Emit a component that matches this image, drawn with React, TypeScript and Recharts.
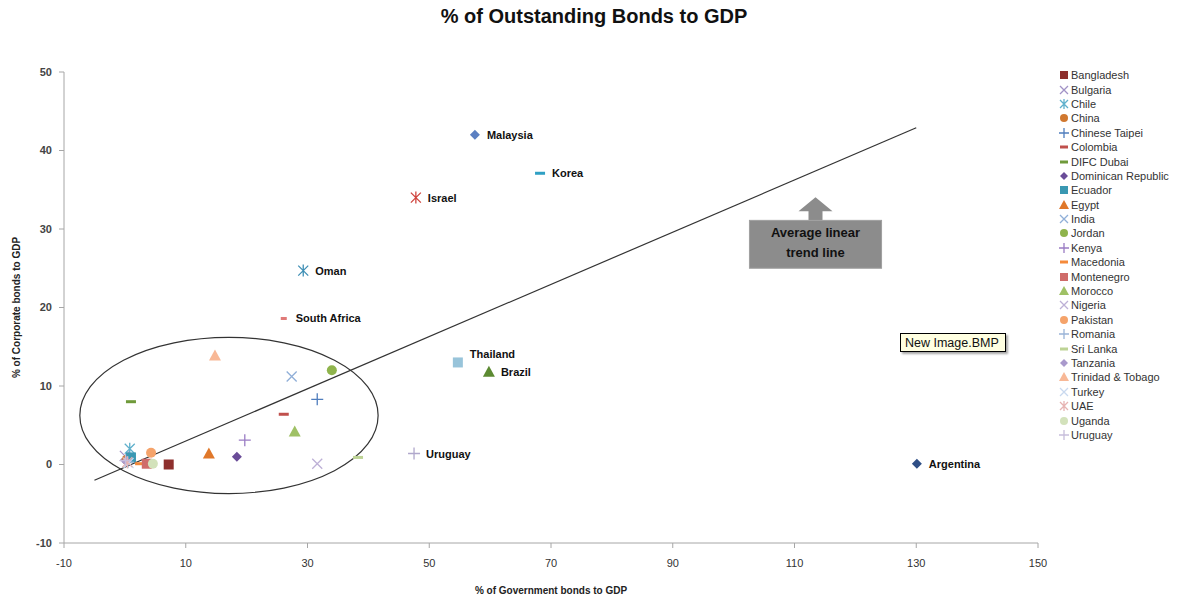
import { ScatterChart, Scatter, XAxis, YAxis, ReferenceLine, ReferenceArea, LabelList } from 'recharts'

// countries shown in the legend
const countries = ['Bangladesh', 'Bulgaria', 'Chile', 'China', 'Chinese Taipei', 'Colombia', 'DIFC Dubai', 'Dominican Republic', 'Ecuador', 'Egypt', 'India', 'Jordan', 'Kenya', 'Macedonia', 'Montenegro', 'Morocco', 'Nigeria', 'Pakistan', 'Romania', 'Sri Lanka', 'Tanzania', 'Trinidad & Tobago', 'Turkey', 'UAE', 'Uganda', 'Uruguay']
const govBonds = [7.2, 0.0, 0.8, 0.3, 31.6, 26.1, 1.0, 18.4, 1.0, 13.8, 27.4, 34.0, 19.7, 2.5, 3.6, 27.9, 31.6, 4.3, 0.5, 38.3, 0.2, 14.8, 0.6, 0.4, 4.6, 0.1]
const corpBonds = [0.0, 1.1, 2.0, 0.6, 8.3, 6.4, 8.0, 1.0, 0.9, 1.4, 11.2, 12.0, 3.1, 0.1, 0.1, 4.2, 0.1, 1.5, 0.3, 0.9, 0.4, 13.9, 0.2, 0.3, 0.1, 0.5]

// countries labelled on the plot
const labeledCountries = ['Malaysia', 'Korea', 'Israel', 'Oman', 'South Africa', 'Thailand', 'Brazil', 'Uruguay', 'Argentina']
const labeledGov = [57.5, 68.2, 47.8, 29.3, 26.1, 54.7, 59.8, 47.5, 130.1]
const labeledCorp = [42.0, 37.1, 34.0, 24.7, 18.6, 13.0, 11.8, 1.4, 0.1]

// average linear trend line end points
const trendGov = [-5, 130]
const trendCorp = [-2, 42.9]

const xTicks = [-10, 10, 30, 50, 70, 90, 110, 130, 150]
const yTicks = [-10, 0, 10, 20, 30, 40, 50]

type Kind = 'square' | 'x' | 'asterisk' | 'circle' | 'plus' | 'dash' | 'smalldash' | 'diamond' | 'triangle'

const styles: [Kind, string][] = [
  ['square', '#8e2f2d'], ['x', '#a192c6'], ['asterisk', '#5fb0cc'], ['circle', '#d0782f'],
  ['plus', '#4f7dbd'], ['dash', '#c0504d'], ['dash', '#6f9a3a'], ['diamond', '#6a4c98'],
  ['square', '#3a98b2'], ['triangle', '#e0782a'], ['x', '#90afd8'], ['circle', '#8fb44c'],
  ['plus', '#9a7cc4'], ['dash', '#f58a3a'], ['square', '#cf6c6a'], ['triangle', '#9fc165'],
  ['x', '#bdb0d6'], ['circle', '#f5a36a'], ['plus', '#9ab4d8'], ['dash', '#bdd395'],
  ['diamond', '#a999cc'], ['triangle', '#f8b896'], ['x', '#c9d9ef'], ['asterisk', '#e6b3b2'],
  ['circle', '#d3e2bb'], ['plus', '#c7bedb'],
]

const labeledStyles: [Kind, string][] = [
  ['diamond', '#5b80c2'], ['dash', '#2fa0c4'], ['asterisk', '#d0453f'], ['asterisk', '#3f8fb5'],
  ['smalldash', '#e07a78'], ['square', '#98c4da'], ['triangle', '#5c8a32'], ['plus', '#b0a8cc'],
  ['diamond', '#2f4f86'],
]

function Marker({ kind, color, cx, cy, s = 5 }: { kind: Kind; color: string; cx: number; cy: number; s?: number }) {
  switch (kind) {
    case 'square':
      return <rect x={cx - s} y={cy - s} width={2 * s} height={2 * s} fill={color} />
    case 'diamond':
      return <polygon points={`${cx},${cy - s} ${cx + s},${cy} ${cx},${cy + s} ${cx - s},${cy}`} fill={color} />
    case 'triangle':
      return <polygon points={`${cx},${cy - s - 1} ${cx + s + 1},${cy + s} ${cx - s - 1},${cy + s}`} fill={color} />
    case 'circle':
      return <circle cx={cx} cy={cy} r={s} fill={color} />
    case 'x':
      return <path d={`M${cx - s},${cy - s}L${cx + s},${cy + s}M${cx + s},${cy - s}L${cx - s},${cy + s}`} stroke={color} strokeWidth={1.3} fill="none" />
    case 'plus':
      return <path d={`M${cx - s - 1},${cy}L${cx + s + 1},${cy}M${cx},${cy - s - 1}L${cx},${cy + s + 1}`} stroke={color} strokeWidth={1.3} fill="none" />
    case 'asterisk':
      return <path d={`M${cx - s},${cy - s}L${cx + s},${cy + s}M${cx + s},${cy - s}L${cx - s},${cy + s}M${cx},${cy - s - 1}L${cx},${cy + s + 1}`} stroke={color} strokeWidth={1.3} fill="none" />
    case 'dash':
      return <rect x={cx - s} y={cy - 1.5} width={2 * s} height={3} fill={color} />
    case 'smalldash':
      return <rect x={cx - s * 0.6} y={cy - 1.5} width={s * 1.2} height={3} fill={color} />
  }
}

const labelShift: Record<string, number> = { Thailand: -8 }

const renderLabel = (props: any) => {
  const { x, y, width, height, value } = props
  return (
    <text x={x + width / 2 + 12} y={y + height / 2 + (labelShift[value] || 0)} dominantBaseline="central"
      fontSize={11} fontWeight="bold" fill="#111">{value}</text>
  )
}

const font = '"Liberation Sans", Arial, sans-serif'

export default function App() {
  return (
    <div style={{ position: 'absolute', left: 0, top: 0, width: 1188, height: 598, background: '#fff', fontFamily: font }}>
      <div style={{ position: 'absolute', top: 5, left: 0, width: 1188, textAlign: 'center', fontSize: 20, fontWeight: 'bold', color: '#111' }}>
        % of Outstanding Bonds to GDP
      </div>

      <ScatterChart width={1188} height={598} margin={{ top: 72, right: 150, bottom: 0, left: 0 }} style={{ fontFamily: font }}>
        <XAxis type="number" dataKey="x" domain={[-10, 150]} ticks={xTicks} allowDataOverflow height={55}
          stroke="#a6a6a6" tickSize={5} tickMargin={11} tick={{ fill: '#333', fontSize: 11 }}
          label={{ value: '% of Government bonds to GDP', position: 'insideBottom', offset: 4, fontSize: 10, fontWeight: 'bold', fill: '#222' }} />
        <YAxis type="number" dataKey="y" domain={[-10, 50]} ticks={yTicks} allowDataOverflow width={64}
          stroke="#a6a6a6" tickSize={5} tickMargin={7} tick={{ fill: '#444', fontSize: 11, fontWeight: 'bold' }}
          label={{ value: '% of Corporate bonds to GDP', angle: -90, position: 'insideLeft', offset: 16, fontSize: 10, fontWeight: 'bold', fill: '#222', style: { textAnchor: 'middle' } }} />

        {/* circled cluster */}
        <ReferenceArea x1={-7.4} x2={41.6} y1={-3.7} y2={16.2} ifOverflow="visible"
          shape={(p: any) => <ellipse cx={p.x + p.width / 2} cy={p.y + p.height / 2} rx={p.width / 2} ry={p.height / 2} fill="none" stroke="#333" strokeWidth={1.2} />} />

        <ReferenceLine segment={[{ x: trendGov[0], y: trendCorp[0] }, { x: trendGov[1], y: trendCorp[1] }]} stroke="#333" strokeWidth={1.2} ifOverflow="visible" />

        {/* callout box for the trend line */}
        <ReferenceArea x1={102.6} x2={124.3} y1={25} y2={31.1} ifOverflow="visible"
          shape={(p: any) => {
            const mx = p.x + p.width / 2
            return (
              <g>
                <polygon points={`${mx - 7},${p.y} ${mx - 7},${p.y - 9} ${mx - 17},${p.y - 9} ${mx},${p.y - 23} ${mx + 17},${p.y - 9} ${mx + 7},${p.y - 9} ${mx + 7},${p.y}`} fill="#8c8c8c" />
                <rect x={p.x} y={p.y} width={p.width} height={p.height} fill="#8c8c8c" stroke="#a0a0a0" />
                <text x={mx} y={p.y + 17} textAnchor="middle" fontSize={13} fontWeight="bold" fill="#111">Average linear</text>
                <text x={mx} y={p.y + 37} textAnchor="middle" fontSize={13} fontWeight="bold" fill="#111">trend line</text>
              </g>
            )
          }} />

        {countries.map((c, i) => (
          <Scatter key={c} name={c} data={[{ x: govBonds[i], y: corpBonds[i] }]} isAnimationActive={false}
            shape={(p: any) => <Marker kind={styles[i][0]} color={styles[i][1]} cx={p.cx} cy={p.cy} />} />
        ))}

        {labeledCountries.map((c, i) => (
          <Scatter key={'l' + i} name={c} data={[{ x: labeledGov[i], y: labeledCorp[i], name: c }]} isAnimationActive={false}
            shape={(p: any) => <Marker kind={labeledStyles[i][0]} color={labeledStyles[i][1]} cx={p.cx} cy={p.cy} />}>
            <LabelList dataKey="name" content={renderLabel} />
          </Scatter>
        ))}
      </ScatterChart>

      {/* legend */}
      <div style={{ position: 'absolute', left: 1058, top: 68 }}>
        {countries.map((c, i) => (
          <div key={c} style={{ display: 'flex', alignItems: 'center', height: 14.4, fontSize: 11, color: '#333', whiteSpace: 'nowrap' }}>
            <svg width={12} height={12} style={{ marginRight: 1 }}>
              <Marker kind={styles[i][0]} color={styles[i][1]} cx={6} cy={6} s={4} />
            </svg>
            {c}
          </div>
        ))}
      </div>

      {/* stray tooltip captured in the source image */}
      <div style={{ position: 'absolute', left: 900, top: 333, width: 106, height: 19, background: '#ffffe1', border: '1px solid #000', boxShadow: '2px 2px 2px rgba(0,0,0,0.35)', fontSize: 12.5, lineHeight: '19px', paddingLeft: 4, boxSizing: 'border-box', color: '#111' }}>
        New Image.BMP
      </div>
    </div>
  )
}
